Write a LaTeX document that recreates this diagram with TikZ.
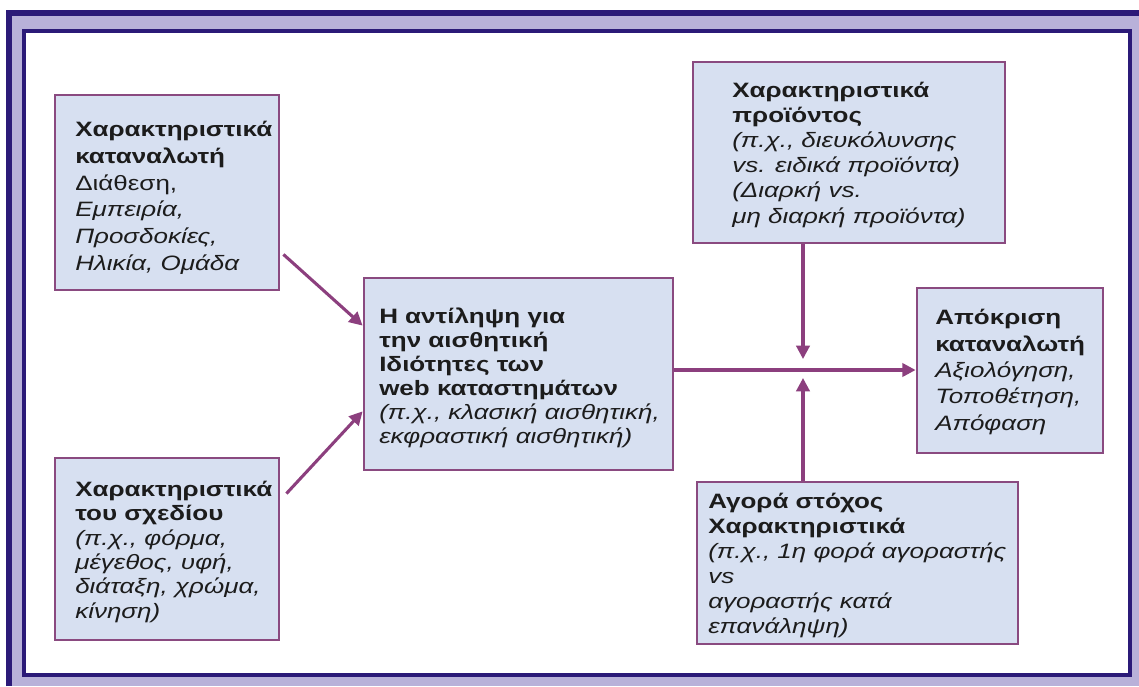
\documentclass[tikz,border=0pt]{standalone}
\usepackage{fontspec}
\setmainfont{Liberation Sans}[FakeStretch=1.25]
\usetikzlibrary{fit,calc,arrows.meta}
\definecolor{framenavy}{HTML}{2B1A78}
\definecolor{framelav}{HTML}{B8B1D9}
\definecolor{boxfill}{HTML}{D7E0F1}
\definecolor{boxline}{HTML}{8A4A80}
\definecolor{arrowcol}{HTML}{8C3F7E}
\definecolor{txt}{HTML}{1C1C1C}
\tikzset{
  box/.style={draw=boxline, fill=boxfill, line width=2.1pt, inner sep=0pt, rectangle},
  label text/.style={anchor=base west, inner sep=0pt, align=left, text=txt,
    font=\fontsize{15.6}{#1}\selectfont},
  label text/.default=19,
  flow/.style={draw=arrowcol, line width=2.3pt, -{Triangle[length=10pt,width=10pt]}},
}
\begin{document}
\begin{tikzpicture}[x=0.75pt,y=-0.75pt]
  \useasboundingbox (0,0) rectangle (1139,686);
  % frame
  \fill[white] (0,0) rectangle (1139,686);
  \fill[framelav] (6,10) rectangle (1139,686);
  \draw[framenavy, line width=4.5pt] (9,686) -- (9,12.5) -- (1139,12.5);
  \draw[framenavy, line width=3pt, fill=white] (24,31) rectangle (1129.5,674.5);

  % boxes
  \node[box, fit={(55,95) (279,290)}] (b1) {};
  \node[box, fit={(55,458) (279,640)}] (b2) {};
  \node[box, fit={(364,278) (673,470)}] (b3) {};
  \node[box, fit={(693,62) (1005,243)}] (b4) {};
  \node[box, fit={(697,482) (1018,644)}] (b5) {};
  \node[box, fit={(917,288) (1103,453)}] (b6) {};

  % texts (placed by the baseline of their last line)
  \node[label text=20] (t1) at (75,270) {\textbf{Χαρακτηριστικά}\\ \textbf{καταναλωτή}\\ Διάθεση,\\ \textit{Εμπειρία,}\\ \textit{Προσδοκίες,}\\ \textit{Ηλικία, Ομάδα}};
  \node[label text=18.2] (t2) at (75,618) {\textbf{Χαρακτηριστικά}\\ \textbf{του σχεδίου}\\ \textit{(π.χ., φόρμα,}\\ \textit{μέγεθος, υφή,}\\ \textit{διάταξη, χρώμα,}\\ \textit{κίνηση)}};
  \node[label text=18] (t3) at (379,443) {\textbf{Η αντίληψη για}\\ \textbf{την αισθητική}\\ \textbf{Ιδιότητες των}\\ \textbf{web καταστημάτων}\\ \textit{(π.χ., κλασική αισθητική,}\\ \textit{εκφραστική αισθητική)}};
  \node[label text=18.9] (t4) at (732,223) {\textbf{Χαρακτηριστικά}\\ \textbf{προϊόντος}\\ \textit{(π.χ., διευκόλυνσης}\\ \textit{vs. ειδικά προϊόντα)}\\ \textit{(Διαρκή vs.}\\ \textit{μη διαρκή προϊόντα)}};
  \node[label text=18.75] (t5) at (708,633) {\textbf{Αγορά στόχος}\\ \textbf{Χαρακτηριστικά}\\ \textit{(π.χ., 1η φορά αγοραστής}\\ \textit{vs}\\ \textit{αγοραστής κατά}\\ \textit{επανάληψη)}};
  \node[label text=19.7] (t6) at (935,430) {\textbf{Απόκριση}\\ \textbf{καταναλωτή}\\ \textit{Αξιολόγηση,}\\ \textit{Τοποθέτηση,}\\ \textit{Απόφαση}};

  % junction points on the main flow line
  \coordinate (jm) at (803,370);
  \coordinate (jt) at (803,359);
  \coordinate (jb) at (803,378);

  % connectors
  \draw[flow] ($(b1.south east)+(3,-37)$) -- ($(b3.north west)+(0,49)$);
  \draw[flow] ($(b2.north east)+(6,37)$) -- ($(b3.south west)+(0,-60)$);
  \draw[flow] (b3.east |- jm) -- (b6.west |- jm);
  \draw[flow] (b4.south -| jt) -- (jt);
  \draw[flow] (b5.north -| jb) -- (jb);
\end{tikzpicture}
\end{document}
